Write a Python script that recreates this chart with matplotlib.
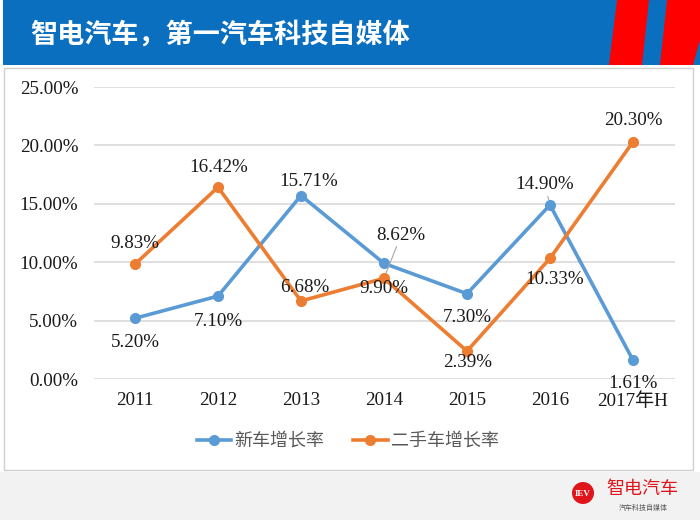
import matplotlib
matplotlib.use("Agg")
import matplotlib.pyplot as plt
from matplotlib.patches import Rectangle, Polygon, Circle
from matplotlib.lines import Line2D

# ---------------- data ----------------
categories = ["2011", "2012", "2013", "2014", "2015", "2016", "2017年H"]
new_car = [5.20, 7.10, 15.71, 9.90, 7.30, 14.90, 1.61]
used_car = [9.83, 16.42, 6.68, 8.62, 2.39, 10.33, 20.30]
series_names = ["新车增长率", "二手车增长率"]
yticks = [0, 5, 10, 15, 20, 25]
title = "智电汽车，第一汽车科技自媒体"

# label offsets in pixels (dx right, dy down)
new_off = [(0, 24), (0, 25), (8, -14), (0, 25), (0, 24), (-5, -20), (0, 23)]
used_off = [(0, -21), (1, -20), (4, -13), (17, -43), (1, 11), (5, 21), (0, -21)]

BLUE = "#5B9BD5"
ORANGE = "#ED7D31"
SERIF = ["Liberation Serif", "Noto Sans CJK SC"]
CJK = ["Noto Sans CJK SC", "DejaVu Sans"]

W, H = 700, 520
fig = plt.figure(figsize=(7, 5.2), dpi=100)
fig.patch.set_facecolor("white")

# background / decoration axes in pixel coordinates
bg = fig.add_axes([0, 0, 1, 1], zorder=0)
bg.set_xlim(0, W)
bg.set_ylim(H, 0)
bg.axis("off")
# header band
bg.add_patch(Rectangle((3, 0), W - 3, 65, facecolor="#0B6FC0", edgecolor="none"))
bg.add_patch(Polygon([(617, 0), (649, 0), (642, 65), (609, 65)], closed=True,
                     facecolor="#FF0000", edgecolor="none"))
bg.add_patch(Polygon([(667, 0), (700, 0), (700, 40), (693, 65), (660, 65)], closed=True,
                     facecolor="#FF0000", edgecolor="none"))
bg.text(30, 35, title, color="white", fontsize=19.5, fontweight="bold",
        family=CJK, va="center", ha="left")
# bottom gray strip
bg.add_patch(Rectangle((0, 472), W, 48, facecolor="#F2F2F2", edgecolor="none"))
# chart frame
bg.add_patch(Rectangle((4, 68), 688.5, 402, facecolor="white", edgecolor="#D0D0D0", lw=1))
# logo
bg.add_patch(Circle((583, 493), 11, facecolor="#E0141B", edgecolor="none"))
bg.text(583, 493.5, "IEV", color="white", fontsize=6.5, fontweight="bold",
        family=["Liberation Serif"], ha="center", va="center")
bg.text(642, 489, "智电汽车", color="#E0141B", fontsize=13, family=CJK,
        ha="center", va="center")
bg.text(643, 508, "汽车科技自媒体", color="#555555", fontsize=5, family=CJK,
        ha="center", va="center")

# main chart axes
left, right, top, bottom = 93.5, 674.5, 87, 379
ax = fig.add_axes([left / W, 1 - bottom / H, (right - left) / W, (bottom - top) / H], zorder=2)
ax.patch.set_alpha(0)
x = list(range(len(categories)))
ax.set_xlim(-0.5, len(categories) - 0.5)
ax.set_ylim(0, 25)
ax.set_yticks(yticks)
ax.set_yticklabels(["%.2f%%" % v for v in yticks], family=SERIF, fontsize=13.7, color="#1a1a1a")
ax.set_xticks(x)
ax.set_xticklabels(categories, family=SERIF, fontsize=13.7, color="#1a1a1a")
ax.tick_params(axis="y", length=0, pad=11)
ax.tick_params(axis="x", length=0, pad=9.5)
for s in ax.spines.values():
    s.set_visible(False)
ax.grid(axis="y", color="#D9D9D9", lw=1.2)
ax.set_axisbelow(True)

ax.plot(x, new_car, color=BLUE, lw=2.6, marker="o", ms=7, solid_capstyle="round",
        zorder=3, label=series_names[0])
ax.plot(x, used_car, color=ORANGE, lw=2.6, marker="o", ms=7, solid_capstyle="round",
        zorder=3, label=series_names[1])

k = 0.72  # px -> pt


def label(xi, v, off, leader=False):
    kw = {}
    if leader:
        kw["arrowprops"] = dict(arrowstyle="-", color="#A6A6A6", lw=0.8,
                                shrinkA=0, shrinkB=4)
    ax.annotate("%.2f%%" % v, xy=(xi, v), xytext=(off[0] * k, -off[1] * k),
                textcoords="offset points", ha="center", va="center",
                family=SERIF, fontsize=13.7, color="#1a1a1a", zorder=5, **kw)


for i in x:
    label(i, new_car[i], new_off[i], leader=(i == 5))
    label(i, used_car[i], used_off[i], leader=(i == 3))

handles = [Line2D([], [], color=BLUE, lw=2.6, marker="o", ms=7),
           Line2D([], [], color=ORANGE, lw=2.6, marker="o", ms=7)]
leg = fig.legend(handles, series_names, loc="center", bbox_to_anchor=(0.497, 1 - 441 / H),
                 ncol=2, frameon=False, handlelength=1.9, handletextpad=0.2,
                 columnspacing=1.6, prop={"family": CJK, "size": 13})
for t in leg.get_texts():
    t.set_color("#595959")

fig.savefig("out.png", dpi=100)
